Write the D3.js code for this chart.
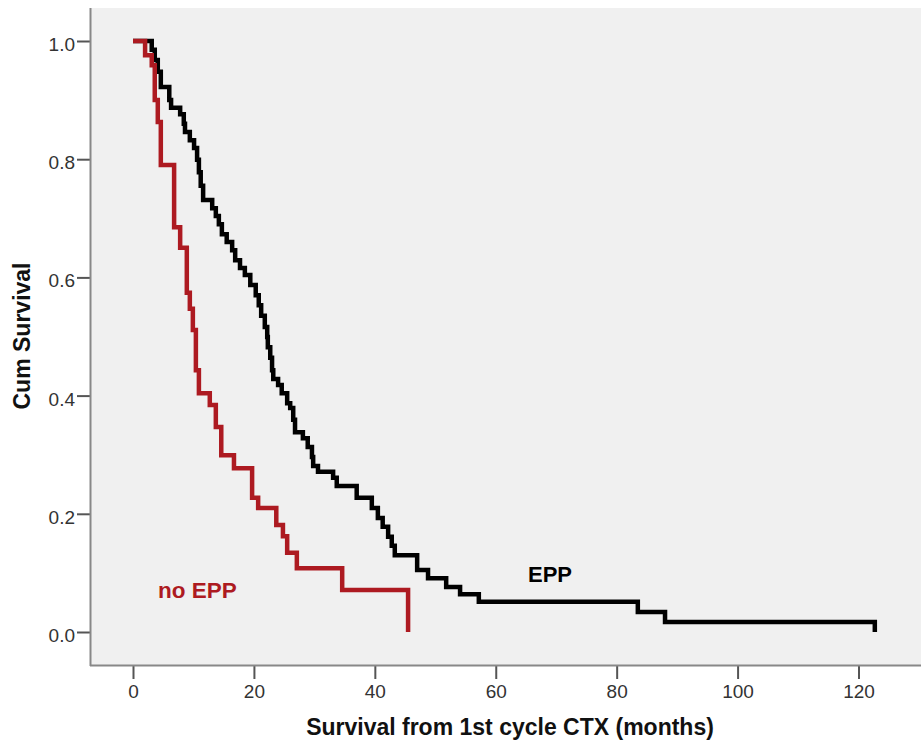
<!DOCTYPE html>
<html>
<head>
<meta charset="utf-8">
<script src="https://cdn.jsdelivr.net/npm/d3@7"></script>
<style>
  html, body { margin: 0; padding: 0; background: #ffffff; }
  svg { display: block; font-family: "Liberation Sans", Arial, sans-serif; }
</style>
</head>
<body>
<svg id="chart" width="921" height="740"></svg>
<script>
// Kaplan–Meier steps: time of each drop (months) and survival after it.
const eppTimes = [3.1, 3.6, 4.1, 4.6, 6.0, 6.3, 7.8, 8.4, 8.6, 9.4, 10.1, 10.6, 10.9, 11.2, 11.6,
  13.1, 13.7, 14.2, 14.7, 15.5, 16.4, 16.9, 17.7, 18.5, 19.4, 20.3, 20.8, 21.2, 21.8, 22.2,
  22.3, 22.7, 23.0, 23.2, 24.0, 24.6, 25.5, 26.0, 26.5, 26.8, 28.1, 28.9, 29.6, 29.8, 30.6,
  33.1, 33.7, 37.0, 39.5, 40.5, 41.3, 42.2, 42.8, 43.3, 47.0, 48.8, 51.8, 54.1, 57.2,
  83.5, 88.0, 122.7];
const eppSurv = [0.985, 0.968, 0.948, 0.922, 0.900, 0.887, 0.876, 0.860, 0.846, 0.832, 0.819, 0.799, 0.778, 0.755, 0.731,
  0.717, 0.704, 0.690, 0.673, 0.660, 0.646, 0.629, 0.616, 0.604, 0.587, 0.570, 0.553, 0.535, 0.516, 0.499,
  0.482, 0.464, 0.443, 0.428, 0.418, 0.404, 0.387, 0.379, 0.359, 0.338, 0.328, 0.313, 0.296, 0.281, 0.271,
  0.261, 0.247, 0.227, 0.210, 0.193, 0.178, 0.161, 0.146, 0.130, 0.105, 0.091, 0.076, 0.064, 0.051,
  0.034, 0.017, 0.000];

const noEppTimes = [2.0, 3.1, 3.6, 4.1, 4.6, 6.8, 7.8, 8.9, 9.4, 9.9, 10.4, 10.9, 12.7, 13.7, 14.6,
  16.7, 19.7, 20.7, 23.7, 24.8, 25.5, 27.1, 34.6, 45.5];
const noEppSurv = [0.976, 0.959, 0.900, 0.863, 0.790, 0.685, 0.650, 0.574, 0.547, 0.511, 0.443, 0.404, 0.384, 0.347, 0.299,
  0.277, 0.227, 0.210, 0.181, 0.162, 0.134, 0.108, 0.071, 0.000];

const xTicks = [0, 20, 40, 60, 80, 100, 120];
const yTicks = [0.0, 0.2, 0.4, 0.6, 0.8, 1.0];

const xTitle = "Survival from 1st cycle CTX (months)";
const yTitle = "Cum Survival";
const eppLabel = "EPP";
const noEppLabel = "no EPP";

const W = 921, H = 740;
const plot = { left: 90, top: 8, right: 921, bottom: 665 };

const x = d3.scaleLinear().domain([0, 120]).range([133, 858.5]);
const y = d3.scaleLinear().domain([0, 1]).range([632, 41]);

const svg = d3.select("#chart");

// plot background
svg.append("rect")
  .attr("x", plot.left).attr("y", plot.top)
  .attr("width", plot.right - plot.left).attr("height", plot.bottom - plot.top)
  .attr("fill", "#f0f0f0");

// axes
const yAxis = d3.axisLeft(y).tickValues(yTicks).tickFormat(d3.format(".1f"))
  .tickSize(13).tickPadding(2);
const gy = svg.append("g").attr("transform", `translate(${plot.left},0)`).call(yAxis);
gy.select(".domain").remove();
gy.selectAll(".tick line").attr("stroke", "#555").attr("stroke-width", 2);
gy.selectAll(".tick text").attr("font-size", 19).attr("fill", "#333").attr("dy", "0.5em")
  .attr("font-family", "Liberation Sans, Arial, sans-serif");

const xAxis = d3.axisBottom(x).tickValues(xTicks).tickFormat(d3.format("d"))
  .tickSize(13).tickPadding(6);
const gx = svg.append("g").attr("transform", `translate(0,${plot.bottom + 1})`).call(xAxis);
gx.select(".domain").remove();
gx.selectAll(".tick line").attr("stroke", "#555").attr("stroke-width", 2);
gx.selectAll(".tick text").attr("font-size", 19).attr("fill", "#333")
  .attr("font-family", "Liberation Sans, Arial, sans-serif");

// axis lines
svg.append("line")
  .attr("x1", plot.left + 0.5).attr("x2", plot.left + 0.5)
  .attr("y1", plot.top).attr("y2", plot.bottom + 1)
  .attr("stroke", "#888").attr("stroke-width", 2);
svg.append("line")
  .attr("x1", plot.left).attr("x2", plot.right)
  .attr("y1", plot.bottom + 0.5).attr("y2", plot.bottom + 0.5)
  .attr("stroke", "#888").attr("stroke-width", 2);

// survival curves
const toSeries = (times, surv) =>
  [{ t: 0, s: 1 }].concat(times.map((t, i) => ({ t, s: surv[i] })));

const stepLine = d3.line()
  .x(d => x(d.t)).y(d => y(d.s))
  .curve(d3.curveStepAfter);

svg.append("path")
  .attr("d", stepLine(toSeries(eppTimes, eppSurv)))
  .attr("fill", "none").attr("stroke", "#000000")
  .attr("stroke-width", 4.5).attr("stroke-linejoin", "miter").attr("stroke-linecap", "butt");

svg.append("path")
  .attr("d", stepLine(toSeries(noEppTimes, noEppSurv)))
  .attr("fill", "none").attr("stroke", "#ad1a21")
  .attr("stroke-width", 4.5).attr("stroke-linejoin", "miter").attr("stroke-linecap", "butt");

// curve labels
svg.append("text")
  .attr("x", 528).attr("y", 582)
  .attr("font-size", 22).attr("font-weight", "bold").attr("fill", "#000")
  .text(eppLabel);
svg.append("text")
  .attr("x", 158).attr("y", 598)
  .attr("font-size", 22.5).attr("font-weight", "bold").attr("fill", "#ad1a21")
  .text(noEppLabel);

// axis titles
svg.append("text")
  .attr("x", 510).attr("y", 735)
  .attr("text-anchor", "middle")
  .attr("font-size", 23).attr("font-weight", "bold").attr("fill", "#111")
  .text(xTitle);
svg.append("text")
  .attr("transform", "translate(30,336) rotate(-90)")
  .attr("text-anchor", "middle")
  .attr("font-size", 23).attr("font-weight", "bold").attr("fill", "#111")
  .text(yTitle);
</script>
</body>
</html>
